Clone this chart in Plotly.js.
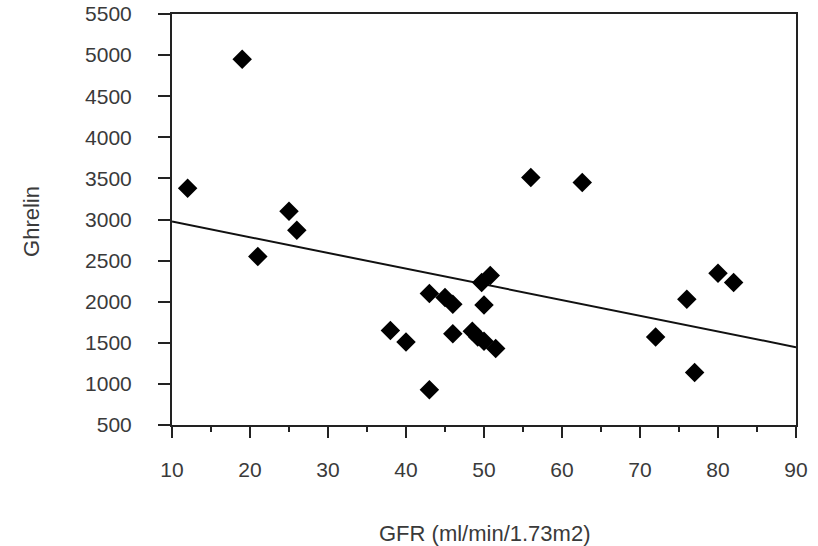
<!DOCTYPE html>
<html>
<head>
<meta charset="utf-8">
<script src="https://cdn.plot.ly/plotly-3.0.1.min.js"></script>
<style>html,body{margin:0;padding:0;background:#fff;}#chart{width:818px;height:546px;}</style>
</head>
<body>
<div id="chart"></div>
<script>
// GFR (ml/min/1.73m2) values
const gfr = [12, 19, 21, 25, 26, 38, 40, 43, 43, 45, 46, 46, 48.5, 49.2, 50, 51.5, 50, 49.7, 50.8, 56, 62.6, 72, 76, 77, 80, 82];
// Ghrelin values
const ghrelin = [3380, 4950, 2550, 3100, 2870, 1650, 1510, 930, 2100, 2050, 1970, 1610, 1640, 1570, 1520, 1430, 1960, 2235, 2320, 3510, 3450, 1570, 2030, 1140, 2345, 2235];
// Regression line endpoints
const trendX = [10, 90];
const trendY = [2975, 1447];
const xTicks = [10, 20, 30, 40, 50, 60, 70, 80, 90];
const yTicks = [500, 1000, 1500, 2000, 2500, 3000, 3500, 4000, 4500, 5000, 5500];

const tickFont = {family: 'Liberation Sans, Arial, sans-serif', size: 21, color: '#3a3a3a'};
const titleFont = {family: 'Liberation Sans, Arial, sans-serif', size: 22, color: '#3a3a3a'};

const data = [
  {x: trendX, y: trendY, mode: 'lines', type: 'scatter', line: {color: '#111', width: 2}, hoverinfo: 'skip', showlegend: false},
  {x: gfr, y: ghrelin, mode: 'markers', type: 'scatter', marker: {symbol: 'diamond', size: 15, color: '#000'}, showlegend: false}
];

const layout = {
  width: 818, height: 546,
  margin: {l: 172, r: 22, t: 14, b: 121},
  paper_bgcolor: '#fff', plot_bgcolor: '#fff',
  xaxis: {
    range: [10, 90], tickvals: xTicks, ticktext: xTicks.map(String),
    showgrid: false, zeroline: false,
    showline: true, linecolor: '#222', linewidth: 2, mirror: true,
    ticks: 'outside', ticklen: 11, tickwidth: 2, tickcolor: '#222',
    ticklabelstandoff: 14,
    minor: {dtick: 5, tick0: 5, ticks: 'outside', ticklen: 5, tickwidth: 2, tickcolor: '#222', showgrid: false},
    tickfont: tickFont
  },
  yaxis: {
    range: [500, 5500], tickvals: yTicks, ticktext: yTicks.map(String),
    showgrid: false, zeroline: false,
    showline: true, linecolor: '#222', linewidth: 2, mirror: true,
    ticks: 'outside', ticklen: 12, tickwidth: 2, tickcolor: '#222',
    ticklabelstandoff: 22,
    tickfont: tickFont
  },
  annotations: [
    {text: 'GFR (ml/min/1.73m2)', xref: 'paper', yref: 'paper', x: 0.5, y: 0, xanchor: 'center', yanchor: 'top', yshift: -94, showarrow: false, font: titleFont},
    {text: 'Ghrelin', xref: 'paper', yref: 'paper', x: 0, y: 0.494, xanchor: 'center', yanchor: 'middle', xshift: -140, textangle: -90, showarrow: false, font: titleFont}
  ]
};

Plotly.newPlot('chart', data, layout, {displayModeBar: false, staticPlot: true});
</script>
</body>
</html>
